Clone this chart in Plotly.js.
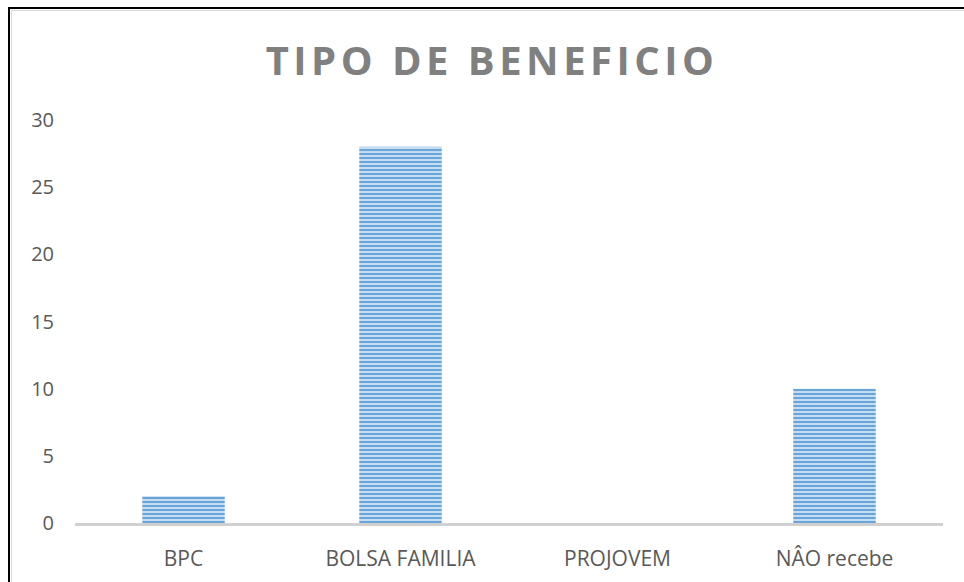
<!DOCTYPE html>
<html><head><meta charset="utf-8">
<script src="https://cdn.plot.ly/plotly-3.0.1.min.js"></script>
<style>
body{margin:0;background:#fff;}
#wrap{position:relative;width:964px;height:582px;}
#chart{width:964px;height:582px;}
#frame{position:absolute;left:8px;top:7px;width:970px;height:590px;border-left:2px solid #000;border-top:2px solid #000;pointer-events:none;}
#frame2{position:absolute;left:11px;top:10px;width:970px;height:590px;border-left:1px solid #d9d9d9;border-top:1px solid #d9d9d9;pointer-events:none;}
.gtitle{letter-spacing:4.5px;}
</style></head><body>
<div id="wrap"><div id="chart"></div><div id="frame"></div><div id="frame2"></div></div>
<script>
const categories = ["BPC", "BOLSA FAMILIA", "PROJOVEM", "NÂO recebe"];
const values = [2, 28, 0, 10];
const yTicks = [0, 5, 10, 15, 20, 25, 30];

const trace = {
  type: 'bar', x: categories, y: values,
  marker: {
    color: '#a9cbea',
    line: {width: 0},
    pattern: {shape: '-', fgcolor: '#6aa5da', bgcolor: '#c4dcf2', size: 4, solidity: 0.5}
  },
  hoverinfo: 'none'
};
const layout = {
  width: 964, height: 582,
  margin: {l: 75, r: 21, t: 120, b: 59},
  paper_bgcolor: '#fff', plot_bgcolor: '#fff',
  bargap: 0.62,
  showlegend: false,
  title: {text: 'TIPO DE BENEFICIO', x: 492/964, xref: 'container', xanchor: 'center',
    y: 1 - 61/582, yref: 'container', yanchor: 'middle',
    font: {family: '"Open Sans", sans-serif', size: 40, color: '#808080', weight: 700}},
  xaxis: {showline: true, linecolor: '#d0d0d0', linewidth: 3, showgrid: false, zeroline: false,
    ticks: '', ticklabelstandoff: 15,
    tickfont: {family: '"Open Sans", sans-serif', size: 21, color: '#595959'}},
  yaxis: {range: [0, 30], tickvals: yTicks, showgrid: false, zeroline: false, showline: false,
    ticks: '', ticklabelstandoff: 20,
    tickfont: {family: '"Open Sans", sans-serif', size: 20, color: '#595959'}}
};
Plotly.newPlot('chart', [trace], layout, {displayModeBar: false, staticPlot: true});
</script></body></html>
